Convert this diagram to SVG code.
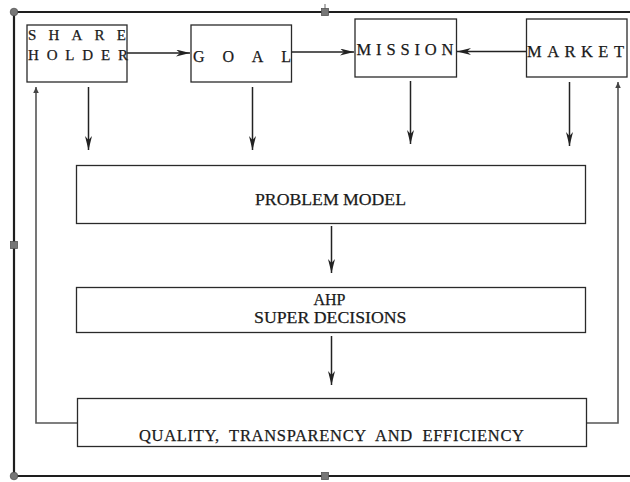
<svg xmlns="http://www.w3.org/2000/svg" width="630" height="482" viewBox="0 0 630 482">
  <style>
    .box { fill: #fff; stroke: #2a2a2a; stroke-width: 1.3; }
    .lbl { font-family: "Liberation Serif", "Times New Roman", serif; fill: #1a1a1a; stroke: #1a1a1a; stroke-width: 0.25; }
    .conn { fill: none; stroke: #222; stroke-width: 1.5; }
    .fb { fill: none; stroke: #555; stroke-width: 1.6; }
    .frame { fill: none; stroke: #1e1e1e; stroke-width: 2.2; }
    .handle { fill: #777; stroke: #555; stroke-width: 0.8; }
  </style>
  <defs>
    <marker id="stealth" markerUnits="userSpaceOnUse" markerWidth="16" markerHeight="10" refX="14" refY="3.5" orient="auto">
      <path d="M0,0 L14,3.5 L0,7 L4,3.5 z" fill="#222"/>
    </marker>
    <marker id="tri" markerUnits="userSpaceOnUse" markerWidth="8" markerHeight="8" refX="6" refY="2.75" orient="auto">
      <path d="M0,0 L6,2.75 L0,5.5 z" fill="#444"/>
    </marker>
  </defs>

  <!-- outer frame with selection handles -->
  <g id="frame">
    <path class="frame" d="M630,12 L14,12 L14,476 L630,476"/>
    <line x1="325" y1="4" x2="325" y2="10" stroke="#666" stroke-width="1"/>
    <rect class="handle" x="321.5" y="8.5" width="7" height="7"/>
    <rect class="handle" x="321.5" y="472.5" width="7" height="7"/>
    <rect class="handle" x="10.5" y="241.5" width="7" height="7"/>
    <circle class="handle" cx="14" cy="12" r="3.8"/>
    <circle class="handle" cx="14" cy="476" r="3.8"/>
  </g>

  <!-- connectors -->
  <g id="connectors">
    <line class="conn" x1="127" y1="53" x2="190" y2="53" marker-end="url(#stealth)"/>
    <line class="conn" x1="291" y1="52" x2="354" y2="52" marker-end="url(#stealth)"/>
    <line class="conn" x1="526" y1="51.5" x2="457" y2="51.5" marker-end="url(#stealth)"/>
    <line class="conn" x1="88.5" y1="87" x2="88.5" y2="150" marker-end="url(#stealth)"/>
    <line class="conn" x1="252.5" y1="87" x2="252.5" y2="150" marker-end="url(#stealth)"/>
    <line class="conn" x1="410.5" y1="81" x2="410.5" y2="144" marker-end="url(#stealth)"/>
    <line class="conn" x1="569.5" y1="82" x2="569.5" y2="146" marker-end="url(#stealth)"/>
    <line class="conn" x1="331.5" y1="226" x2="331.5" y2="273" marker-end="url(#stealth)"/>
    <line class="conn" x1="331.5" y1="336" x2="331.5" y2="385" marker-end="url(#stealth)"/>
    <path class="fb" d="M77.5,423 L36,423 L36,87" marker-end="url(#tri)"/>
    <path class="fb" d="M586.5,423 L618,423 L618,82" marker-end="url(#tri)"/>
  </g>

  <g id="shareholder">
    <rect class="box" x="27" y="25" width="100" height="57"/>
    <text class="lbl" x="28" y="40" font-size="15" textLength="98" lengthAdjust="spacing">SHARE</text>
    <text class="lbl" x="28" y="59.5" font-size="15" textLength="100" lengthAdjust="spacing">HOLDER</text>
  </g>

  <g id="goal">
    <rect class="box" x="191" y="25" width="100.5" height="57"/>
    <text class="lbl" x="193" y="62" font-size="16" textLength="98" lengthAdjust="spacing">GOAL</text>
  </g>

  <g id="mission">
    <rect class="box" x="355" y="19" width="101.5" height="58"/>
    <text class="lbl" x="356.5" y="55" font-size="16.5" textLength="97" lengthAdjust="spacing">MISSION</text>
  </g>

  <g id="market">
    <rect class="box" x="526.5" y="19" width="100.5" height="58"/>
    <text class="lbl" x="527" y="56.5" font-size="16.5" textLength="97" lengthAdjust="spacing">MARKET</text>
  </g>

  <g id="problem-model">
    <rect class="box" x="76.5" y="165.5" width="509" height="58"/>
    <text class="lbl" x="255" y="205" font-size="17" textLength="151" lengthAdjust="spacingAndGlyphs">PROBLEM MODEL</text>
  </g>

  <g id="ahp">
    <rect class="box" x="76.5" y="287.5" width="509" height="45"/>
    <text class="lbl" x="329.5" y="304.5" font-size="16" text-anchor="middle">AHP</text>
    <text class="lbl" x="254" y="323" font-size="16.5" textLength="152.5" lengthAdjust="spacingAndGlyphs">SUPER DECISIONS</text>
  </g>

  <g id="quality">
    <rect class="box" x="77.5" y="398.5" width="509" height="48"/>
    <text class="lbl" x="139" y="441" font-size="16.5" textLength="385" lengthAdjust="spacing" xml:space="preserve">QUALITY,  TRANSPARENCY  AND  EFFICIENCY</text>
  </g>
</svg>
